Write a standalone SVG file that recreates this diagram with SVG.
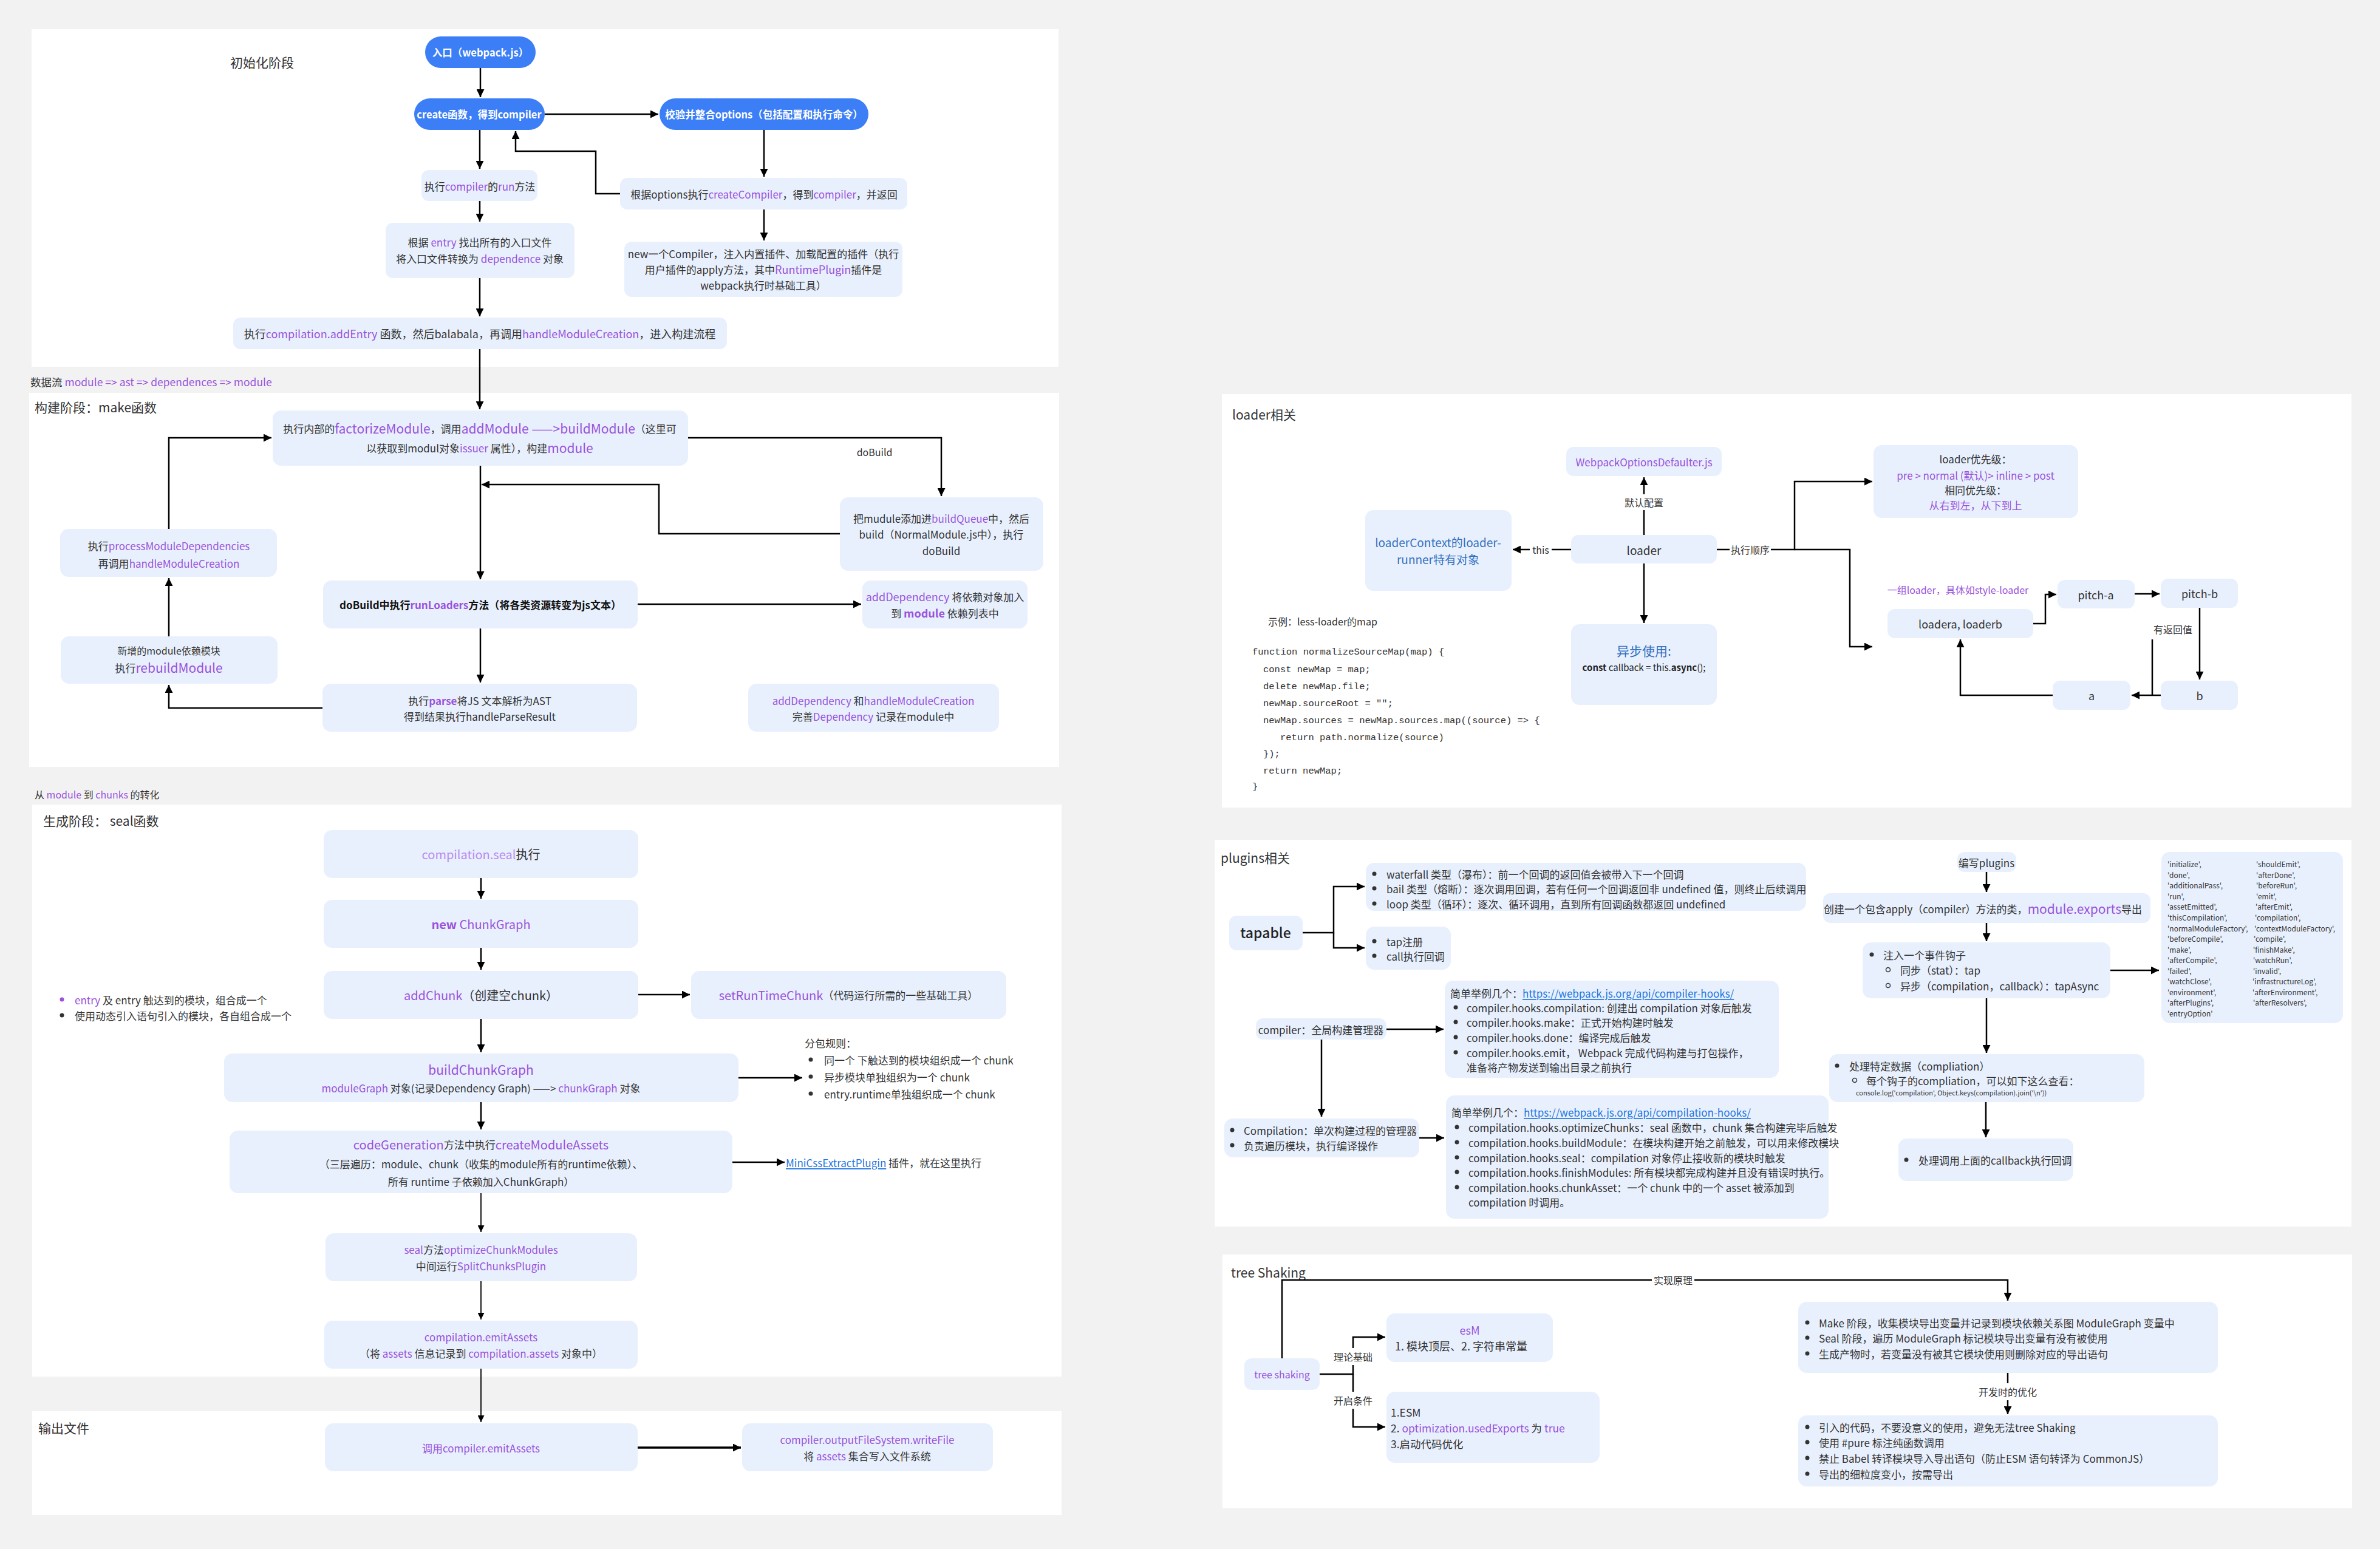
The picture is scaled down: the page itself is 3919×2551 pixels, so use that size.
<svg xmlns="http://www.w3.org/2000/svg" width="3919" height="2551" viewBox="0 0 3919 2551">
<defs>
<marker id="ah" viewBox="0 0 12 12" refX="12" refY="6" markerWidth="13" markerHeight="13" markerUnits="userSpaceOnUse" orient="auto"><path d="M0,0 L12,6 L0,12 z" fill="#000"/></marker>
<marker id="ahs" viewBox="0 0 12 12" refX="12" refY="6" markerWidth="11" markerHeight="11" markerUnits="userSpaceOnUse" orient="auto"><path d="M0,0 L12,6 L0,12 z" fill="#000"/></marker>
<style>
.t{font-family:"Noto Sans CJK SC","Noto Sans",sans-serif;fill:#333;font-size:17px;dominant-baseline:central}
.c{text-anchor:middle}
.p{fill:#9a52dc}
.lp{fill:#b98af0}
.bl{fill:#3470c0}
.lk{fill:#1f76e0;text-decoration:underline}
.b{font-weight:bold}
.w{fill:#fff}
.pill{fill:#3b7ef6}
.pt{font-size:16.5px;font-weight:bold;fill:#fff}
.box{fill:#e8f0fd}
.panel{fill:#fff}
.code{font-family:"Liberation Mono","Noto Sans CJK SC",monospace;font-size:15.5px;fill:#333;dominant-baseline:central}
.sm{font-size:12px}
.h{font-size:21px}
#connectors path{stroke:#000;stroke-width:2.5;fill:none}
#connectors path.thin{stroke-width:1.8}
#connectors path.thick{stroke-width:3.5}
.lbg{fill:#fff}
.dot{fill:#333}
</style>
</defs>
<rect width="3919" height="2551" fill="#f2f2f2"/>
<g id="panels">
<rect class="panel" x="52" y="48" width="1691" height="556"/>
<rect class="panel" x="48" y="647" width="1696" height="616"/>
<rect class="panel" x="53" y="1325" width="1695" height="942"/>
<rect class="panel" x="53" y="2324" width="1695" height="171"/>
<rect class="panel" x="2012" y="649" width="1860" height="681"/>
<rect class="panel" x="2000" y="1383" width="1872" height="637"/>
<rect class="panel" x="2013" y="2066" width="1860" height="418"/>
</g>
<g id="titles">
<text class="t h" x="379" y="102">初始化阶段</text>
<text class="t" x="50" y="628" style="font-size:17.5px">数据流 <tspan class="p">module =&gt; ast =&gt; dependences =&gt; module</tspan></text>
<text class="t h" x="57" y="670">构建阶段：make函数</text>
<text class="t" x="57" y="1308" style="font-size:16px">从 <tspan class="p">module</tspan> 到 <tspan class="p">chunks</tspan> 的转化</text>
<text class="t h" x="71" y="1351">生成阶段： seal函数</text>
<text class="t h" x="63" y="2351">输出文件</text>
<text class="t h" x="2029" y="682">loader相关</text>
<text class="t h" x="2010" y="1412">plugins相关</text>
<text class="t h" x="2027" y="2095">tree Shaking</text>
</g>

<g id="connectors">
<path d="M791 112 V160" marker-end="url(#ah)"/>
<path d="M790 214 V278" marker-end="url(#ah)"/>
<path d="M897 188 H1084" marker-end="url(#ah)"/>
<path d="M1258 214 V291" marker-end="url(#ah)"/>
<path d="M1258 345 V396" marker-end="url(#ah)"/>
<path d="M1021 319 H981 V249 H849 V216" marker-end="url(#ah)"/>
<path d="M790 331 V365" marker-end="url(#ah)"/>
<path d="M790 458 V521" marker-end="url(#ah)"/>
<path d="M790 575 V674" marker-end="url(#ah)"/>
<path d="M791 767 V954" marker-end="url(#ah)"/>
<path d="M1133 721 H1550 V817" marker-end="url(#ah)"/>
<path d="M1383 879 H1085 V798 H793" marker-end="url(#ah)"/>
<path d="M1050 995 H1418" marker-end="url(#ah)"/>
<path d="M791 1035 V1124" marker-end="url(#ah)"/>
<path d="M531 1166 H278 V1128" marker-end="url(#ah)"/>
<path d="M278 1048 V952" marker-end="url(#ah)"/>
<path d="M278 871 V721 H447" marker-end="url(#ah)"/>
<path d="M792 1446 V1480" marker-end="url(#ah)"/>
<path d="M792 1561 V1597" marker-end="url(#ah)"/>
<path d="M1051 1638 H1136" marker-end="url(#ah)"/>
<path d="M792 1678 V1733" marker-end="url(#ah)"/>
<path d="M1216 1775 H1321" marker-end="url(#ah)"/>
<path d="M792 1815 V1860" marker-end="url(#ah)"/>
<path d="M1206 1914 H1292" marker-end="url(#ah)"/>
<path class="thin" d="M792 1965 V2029" marker-end="url(#ahs)"/>
<path class="thin" d="M792 2110 V2173" marker-end="url(#ahs)"/>
<path class="thin" d="M792 2254 V2342" marker-end="url(#ahs)"/>
<path class="thick" d="M1050 2384 H1220" marker-end="url(#ah)"/>
<path d="M2707 881 V786" marker-end="url(#ah)"/>
<path d="M2587 905 H2491" marker-end="url(#ah)"/>
<path d="M2707 928 V1026" marker-end="url(#ah)"/>
<path d="M2827 905 H2955 V793 H3083" marker-end="url(#ah)"/>
<path d="M2955 905 H3046 V1065 H3083" marker-end="url(#ah)"/>
<path d="M3348 1027 H3368 V979 H3386" marker-end="url(#ah)"/>
<path d="M3515 978 H3556" marker-end="url(#ah)"/>
<path d="M3622 1001 V1119" marker-end="url(#ah)"/>
<path d="M3558 1145 H3510" marker-end="url(#ah)"/>
<path d="M3544 1053 V1145"/>
<path d="M3380 1145 H3228 V1053" marker-end="url(#ah)"/>
<path d="M2145 1536 H2196 V1460 H2247" marker-end="url(#ah)"/>
<path d="M2196 1536 V1561 H2247" marker-end="url(#ah)"/>
<path d="M2283 1695 H2377" marker-end="url(#ah)"/>
<path d="M2176 1712 V1839" marker-end="url(#ah)"/>
<path d="M2337 1874 H2378" marker-end="url(#ah)"/>
<path d="M3271 1436 V1469" marker-end="url(#ah)"/>
<path d="M3271 1520 V1550" marker-end="url(#ah)"/>
<path d="M3475 1598 H3555" marker-end="url(#ah)"/>
<path d="M3271 1644 V1734" marker-end="url(#ah)"/>
<path d="M3270 1815 V1873" marker-end="url(#ah)"/>
<path d="M2111 2237 V2108 H3306 V2142" marker-end="url(#ah)"/>
<path d="M2173 2263 H2228 V2202 H2281" marker-end="url(#ah)"/>
<path d="M2228 2263 V2350 H2281" marker-end="url(#ah)"/>
<path d="M3306 2261 V2329" marker-end="url(#ah)"/>
<rect class="lbg" x="1405" y="732" width="72" height="24"/>
<text class="t c" x="1440" y="744" style="font-size:16px">doBuild</text>
<rect class="lbg" x="2672" y="814" width="70" height="26"/>
<text class="t c" x="2707" y="827" style="font-size:16px">默认配置</text>
<rect class="lbg" x="2519" y="893" width="36" height="24"/>
<text class="t c" x="2537" y="905" style="font-size:16px">this</text>
<rect class="lbg" x="2848" y="893" width="68" height="24"/>
<text class="t c" x="2882" y="905" style="font-size:16px">执行顺序</text>
<rect class="lbg" x="3544" y="1022" width="70" height="28"/>
<text class="t c" x="3578" y="1036" style="font-size:16px">有返回值</text>
<rect class="lbg" x="2720" y="2096" width="70" height="24"/>
<text class="t c" x="2755" y="2108" style="font-size:16px">实现原理</text>
<rect class="lbg" x="2194" y="2220" width="68" height="28"/>
<text class="t c" x="2228" y="2234" style="font-size:16px">理论基础</text>
<rect class="lbg" x="2194" y="2292" width="68" height="28"/>
<text class="t c" x="2228" y="2306" style="font-size:16px">开启条件</text>
<rect class="lbg" x="3258" y="2278" width="96" height="28"/>
<text class="t c" x="3306" y="2292" style="font-size:16px">开发时的优化</text>
</g>

<g id="n-entry"><rect class="pill" x="700" y="60" width="182" height="52" rx="26"/><text class="t c pt" x="791" y="86">入口（webpack.js）</text></g>
<g id="n-create"><rect class="pill" x="682" y="162" width="215" height="52" rx="26"/><text class="t c pt" x="789" y="188">create函数，得到compiler</text></g>
<g id="n-validate"><rect class="pill" x="1086" y="162" width="344" height="52" rx="26"/><text class="t c pt" x="1258" y="188">校验并整合options（包括配置和执行命令）</text></g>
<g id="n-run"><rect class="box" x="694" y="280" width="191" height="51" rx="12"/><text class="t c" x="790" y="306">执行<tspan class="p">compiler</tspan>的<tspan class="p">run</tspan>方法</text></g>
<g id="n-entryfile"><rect class="box" x="635" y="367" width="311" height="91" rx="12"/><text class="t c" x="790" y="398">根据 <tspan class="p">entry</tspan> 找出所有的入口文件</text><text class="t c" x="790" y="425">将入口文件转换为 <tspan class="p">dependence</tspan> 对象</text></g>
<g id="n-addentry"><rect class="box" x="384" y="523" width="813" height="52" rx="12"/><text class="t c" x="790" y="549" style="font-size:18px">执行<tspan class="p">compilation.addEntry</tspan> 函数，然后balabala，再调用<tspan class="p">handleModuleCreation</tspan>，进入构建流程</text></g>
<g id="n-createcompiler"><rect class="box" x="1021" y="293" width="473" height="52" rx="12"/><text class="t c" x="1258" y="319">根据options执行<tspan class="p">createCompiler</tspan>，得到<tspan class="p">compiler</tspan>，并返回</text></g>
<g id="n-newcompiler"><rect class="box" x="1028" y="398" width="458" height="91" rx="12"/><text class="t c" x="1257" y="417">new一个Compiler，注入内置插件、加载配置的插件（执行</text><text class="t c" x="1257" y="443">用户插件的apply方法，其中<tspan class="p" style="font-size:18px">RuntimePlugin</tspan>插件是</text><text class="t c" x="1257" y="469">webpack执行时基础工具）</text></g>

<g id="n-factorize"><rect class="box" x="449" y="676" width="684" height="91" rx="14"/><text class="t c" x="790" y="705">执行内部的<tspan class="p" style="font-size:21px">factorizeModule</tspan>，调用<tspan class="p" style="font-size:21px">addModule ——&gt;buildModule</tspan>（这里可</text><text class="t c" x="790" y="737">以获取到modul对象<tspan class="p">issuer</tspan> 属性），构建<tspan class="p" style="font-size:21px">module</tspan></text></g>
<g id="n-buildqueue"><rect class="box" x="1383" y="819" width="335" height="121" rx="14"/><text class="t c" x="1550" y="853">把mudule添加进<tspan class="p">buildQueue</tspan>中，然后</text><text class="t c" x="1550" y="879">build（NormalModule.js中），执行</text><text class="t c" x="1550" y="906">doBuild</text></g>
<g id="n-dobuild"><rect class="box" x="532" y="956" width="518" height="79" rx="14"/><text class="t c b" x="791" y="995" style="fill:#111">doBuild中执行<tspan class="p">runLoaders</tspan>方法（将各类资源转变为js文本）</text></g>
<g id="n-adddep"><rect class="box" x="1420" y="956" width="272" height="79" rx="14"/><text class="t c" x="1556" y="982"><tspan class="p" style="font-size:18px">addDependency</tspan> 将依赖对象加入</text><text class="t c" x="1556" y="1009">到 <tspan class="p b" style="font-size:18px">module</tspan> 依赖列表中</text></g>
<g id="n-parse"><rect class="box" x="531" y="1126" width="518" height="79" rx="14"/><text class="t c" x="790" y="1153">执行<tspan class="p b">parse</tspan>将JS 文本解析为AST</text><text class="t c" x="790" y="1179">得到结果执行handleParseResult</text></g>
<g id="n-perfectdep"><rect class="box" x="1232" y="1126" width="413" height="79" rx="14"/><text class="t c" x="1438" y="1153"><tspan class="p">addDependency</tspan> 和<tspan class="p">handleModuleCreation</tspan></text><text class="t c" x="1438" y="1179">完善<tspan class="p">Dependency</tspan> 记录在module中</text></g>
<g id="n-rebuild"><rect class="box" x="100" y="1048" width="357" height="78" rx="14"/><text class="t c" x="278" y="1071" style="font-size:16px">新增的module依赖模块</text><text class="t c" x="278" y="1099">执行<tspan class="p" style="font-size:21px">rebuildModule</tspan></text></g>
<g id="n-processdeps"><rect class="box" x="99" y="871" width="357" height="79" rx="14"/><text class="t c" x="278" y="898">执行<tspan class="p">processModuleDependencies</tspan></text><text class="t c" x="278" y="927">再调用<tspan class="p">handleModuleCreation</tspan></text></g>

<g id="n-seal"><rect class="box" x="533" y="1367" width="518" height="79" rx="14"/><text class="t c" x="792" y="1406" style="font-size:20px"><tspan class="lp">compilation.seal</tspan>执行</text></g>
<g id="n-chunkgraph"><rect class="box" x="533" y="1482" width="518" height="79" rx="14"/><text class="t c p" x="792" y="1521" style="font-size:20px"><tspan class="b">new</tspan> ChunkGraph</text></g>
<g id="n-addchunk"><rect class="box" x="533" y="1599" width="518" height="79" rx="14"/><text class="t c" x="792" y="1638" style="font-size:20px"><tspan class="p">addChunk</tspan>（创建空chunk）</text></g>
<g id="n-runtimechunk"><rect class="box" x="1138" y="1599" width="519" height="79" rx="14"/><text class="t c" x="1397" y="1638"><tspan class="p" style="font-size:20px">setRunTimeChunk</tspan>（代码运行所需的一些基础工具）</text></g>
<g id="n-chunknotes"><circle cx="102" cy="1646" r="3.5" fill="#9a52dc"/><text class="t" x="123" y="1646"><tspan class="p">entry</tspan> 及 entry 触达到的模块，组合成一个</text><circle class="dot" cx="102" cy="1672" r="3.5"/><text class="t" x="123" y="1672">使用动态引入语句引入的模块，各自组合成一个</text></g>
<g id="n-buildchunkgraph"><rect class="box" x="369" y="1735" width="847" height="80" rx="14"/><text class="t c p" x="792" y="1761" style="font-size:21px">buildChunkGraph</text><text class="t c" x="792" y="1791"><tspan class="p">moduleGraph</tspan> 对象(记录Dependency Graph) ——&gt; <tspan class="p">chunkGraph</tspan> 对象</text></g>
<g id="n-splitrules"><text class="t" x="1325" y="1717">分包规则：</text><circle class="dot" cx="1335" cy="1745" r="3.5"/><text class="t" x="1357" y="1745">同一个 下触达到的模块组织成一个 chunk</text><circle class="dot" cx="1335" cy="1773" r="3.5"/><text class="t" x="1357" y="1773">异步模块单独组织为一个 chunk</text><circle class="dot" cx="1335" cy="1801" r="3.5"/><text class="t" x="1357" y="1801">entry.runtime单独组织成一个 chunk</text></g>
<g id="n-codegen"><rect class="box" x="378" y="1862" width="828" height="103" rx="14"/><text class="t c" x="792" y="1884"><tspan class="p" style="font-size:20px">codeGeneration</tspan>方法中执行<tspan class="p" style="font-size:20px">createModuleAssets</tspan></text><text class="t c" x="792" y="1916">（三层遍历：module、chunk（收集的module所有的runtime依赖）、</text><text class="t c" x="792" y="1945">所有 runtime 子依赖加入ChunkGraph）</text></g>
<g id="n-minicss"><text class="t" x="1294" y="1914"><tspan class="lk">MiniCssExtractPlugin</tspan> 插件，就在这里执行</text></g>
<g id="n-optimize"><rect class="box" x="536" y="2031" width="513" height="79" rx="14"/><text class="t c" x="792" y="2057"><tspan class="p">seal</tspan>方法<tspan class="p">optimizeChunkModules</tspan></text><text class="t c" x="792" y="2084">中间运行<tspan class="p">SplitChunksPlugin</tspan></text></g>
<g id="n-emitassets"><rect class="box" x="534" y="2175" width="516" height="79" rx="14"/><text class="t c p" x="792" y="2201">compilation.emitAssets</text><text class="t c" x="792" y="2228">（将 <tspan class="p">assets</tspan> 信息记录到 <tspan class="p">compilation.assets</tspan> 对象中）</text></g>

<g id="n-compileremit"><rect class="box" x="535" y="2344" width="515" height="79" rx="14"/><text class="t c p" x="792" y="2384">调用compiler.emitAssets</text></g>
<g id="n-writefile"><rect class="box" x="1222" y="2344" width="413" height="79" rx="14"/><text class="t c p" x="1428" y="2370">compiler.outputFileSystem.writeFile</text><text class="t c" x="1428" y="2397">将 <tspan class="p">assets</tspan> 集合写入文件系统</text></g>

<g id="n-defaulter"><rect class="box" x="2579" y="736" width="256" height="48" rx="12"/><text class="t c p" x="2707" y="760">WebpackOptionsDefaulter.js</text></g>
<g id="n-loader"><rect class="box" x="2587" y="881" width="240" height="47" rx="12"/><text class="t c" x="2707" y="905" style="font-size:19px">loader</text></g>
<g id="n-loadercontext"><rect class="box" x="2248" y="840" width="241" height="133" rx="14"/><text class="t c bl" x="2368" y="892" style="font-size:19px">loaderContext的loader-</text><text class="t c bl" x="2368" y="920" style="font-size:19px">runner特有对象</text></g>
<g id="n-async"><rect class="box" x="2587" y="1028" width="240" height="133" rx="14"/><text class="t c bl" x="2707" y="1071" style="font-size:21px">异步使用:</text><text class="t c" x="2707" y="1098" style="font-size:15px;fill:#222"><tspan class="b">const</tspan> callback = this.<tspan class="b">async</tspan>();</text></g>
<g id="n-example">
<text class="t" x="2088" y="1023" style="font-size:16px">示例：less-loader的map</text>
<text class="code" x="2062" y="1074">function normalizeSourceMap(map) {</text>
<text class="code" x="2080" y="1103">const newMap = map;</text>
<text class="code" x="2080" y="1131">delete newMap.file;</text>
<text class="code" x="2080" y="1159">newMap.sourceRoot = "";</text>
<text class="code" x="2080" y="1187">newMap.sources = newMap.sources.map((source) =&gt; {</text>
<text class="code" x="2108" y="1215">return path.normalize(source)</text>
<text class="code" x="2080" y="1242">});</text>
<text class="code" x="2080" y="1270">return newMap;</text>
<text class="code" x="2062" y="1296">}</text>
</g>
<g id="n-priority"><rect class="box" x="3085" y="733" width="337" height="120" rx="14"/><text class="t c" x="3253" y="755">loader优先级：</text><text class="t c p" x="3253" y="782">pre &gt; normal (默认)&gt; inline &gt; post</text><text class="t c" x="3253" y="806">相同优先级：</text><text class="t c p" x="3253" y="831">从右到左，从下到上</text></g>
<g id="n-grouplabel"><text class="t c p" x="3224" y="971" style="font-size:16px">一组loader，具体如style-loader</text></g>
<g id="n-loaderab"><rect class="box" x="3108" y="1003" width="240" height="48" rx="12"/><text class="t c" x="3228" y="1027" style="font-size:18px">loadera, loaderb</text></g>
<g id="n-pitcha"><rect class="box" x="3388" y="955" width="127" height="47" rx="12"/><text class="t c" x="3451" y="979" style="font-size:18px">pitch-a</text></g>
<g id="n-pitchb"><rect class="box" x="3558" y="953" width="127" height="48" rx="12"/><text class="t c" x="3622" y="977" style="font-size:18px">pitch-b</text></g>
<g id="n-b"><rect class="box" x="3558" y="1121" width="127" height="48" rx="12"/><text class="t c" x="3622" y="1145" style="font-size:18px">b</text></g>
<g id="n-a"><rect class="box" x="3380" y="1121" width="128" height="48" rx="12"/><text class="t c" x="3444" y="1145" style="font-size:18px">a</text></g>

<g id="n-tapable"><rect class="box" x="2024" y="1508" width="121" height="57" rx="12"/><text class="t c" x="2084" y="1535" style="font-size:23px;fill:#222;font-weight:500">tapable</text></g>
<g id="n-hooktypes"><rect class="box" x="2249" y="1421" width="725" height="79" rx="14"/>
<circle class="dot" cx="2263" cy="1439" r="3.5"/><text class="t" x="2283" y="1439">waterfall 类型（瀑布）：前一个回调的返回值会被带入下一个回调</text>
<circle class="dot" cx="2263" cy="1463" r="3.5"/><text class="t" x="2283" y="1463">bail 类型（熔断）：逐次调用回调，若有任何一个回调返回非 undefined 值，则终止后续调用</text>
<circle class="dot" cx="2263" cy="1488" r="3.5"/><text class="t" x="2283" y="1488">loop 类型（循环）：逐次、循环调用，直到所有回调函数都返回 undefined</text></g>
<g id="n-tap"><rect class="box" x="2249" y="1526" width="140" height="71" rx="14"/>
<circle class="dot" cx="2263" cy="1550" r="3.5"/><text class="t" x="2283" y="1550">tap注册</text>
<circle class="dot" cx="2263" cy="1574" r="3.5"/><text class="t" x="2283" y="1574">call执行回调</text></g>
<g id="n-compiler"><rect class="box" x="2068" y="1677" width="215" height="35" rx="12"/><text class="t c" x="2175" y="1695">compiler：全局构建管理器</text></g>
<g id="n-compilerhooks"><rect class="box" x="2379" y="1615" width="550" height="160" rx="14"/>
<text class="t" x="2388" y="1635">简单举例几个：<tspan class="lk">https://webpack.js.org/api/compiler-hooks/</tspan></text>
<circle class="dot" cx="2397" cy="1659" r="3.5"/><text class="t" x="2415" y="1659">compiler.hooks.compilation: 创建出 compilation 对象后触发</text>
<circle class="dot" cx="2397" cy="1683" r="3.5"/><text class="t" x="2415" y="1683">compiler.hooks.make：正式开始构建时触发</text>
<circle class="dot" cx="2397" cy="1708" r="3.5"/><text class="t" x="2415" y="1708">compiler.hooks.done：编译完成后触发</text>
<circle class="dot" cx="2397" cy="1733" r="3.5"/><text class="t" x="2415" y="1733">compiler.hooks.emit， Webpack 完成代码构建与打包操作，</text>
<text class="t" x="2415" y="1757">准备将产物发送到输出目录之前执行</text></g>
<g id="n-compilation"><rect class="box" x="2016" y="1842" width="321" height="64" rx="14"/>
<circle class="dot" cx="2029" cy="1861" r="3.5"/><text class="t" x="2048" y="1861">Compilation：单次构建过程的管理器</text>
<circle class="dot" cx="2029" cy="1886" r="3.5"/><text class="t" x="2048" y="1886">负责遍历模块，执行编译操作</text></g>
<g id="n-compilationhooks"><rect class="box" x="2381" y="1804" width="630" height="203" rx="14"/>
<text class="t" x="2390" y="1831">简单举例几个：<tspan class="lk">https://webpack.js.org/api/compilation-hooks/</tspan></text>
<circle class="dot" cx="2399" cy="1856" r="3.5"/><text class="t" x="2418" y="1856">compilation.hooks.optimizeChunks：seal 函数中，chunk 集合构建完毕后触发</text>
<circle class="dot" cx="2399" cy="1881" r="3.5"/><text class="t" x="2418" y="1881">compilation.hooks.buildModule：在模块构建开始之前触发，可以用来修改模块</text>
<circle class="dot" cx="2399" cy="1906" r="3.5"/><text class="t" x="2418" y="1906">compilation.hooks.seal：compilation 对象停止接收新的模块时触发</text>
<circle class="dot" cx="2399" cy="1930" r="3.5"/><text class="t" x="2418" y="1930">compilation.hooks.finishModules: 所有模块都完成构建并且没有错误时执行。</text>
<circle class="dot" cx="2399" cy="1955" r="3.5"/><text class="t" x="2418" y="1955">compilation.hooks.chunkAsset：一个 chunk 中的一个 asset 被添加到</text>
<text class="t" x="2418" y="1979">compilation 时调用。</text></g>
<g id="n-writeplugins"><rect class="box" x="3223" y="1403" width="97" height="33" rx="12"/><text class="t c" x="3271" y="1420">编写plugins</text></g>
<g id="n-createclass"><rect class="box" x="3002" y="1471" width="539" height="49" rx="12"/><text class="t c" x="3265" y="1496">创建一个包含apply（compiler）方法的类，<tspan class="p" style="font-size:21px">module.exports</tspan>导出</text></g>
<g id="n-inject"><rect class="box" x="3067" y="1552" width="408" height="92" rx="14"/>
<circle class="dot" cx="3082" cy="1572" r="3.5"/><text class="t" x="3101" y="1572">注入一个事件钩子</text>
<circle cx="3109" cy="1597" r="3.5" fill="none" stroke="#333" stroke-width="1.5"/><text class="t" x="3129" y="1597">同步（stat）：tap</text>
<circle cx="3109" cy="1623" r="3.5" fill="none" stroke="#333" stroke-width="1.5"/><text class="t" x="3129" y="1623">异步（compilation，callback）：tapAsync</text></g>
<g id="n-hooklist"><rect class="box" x="3559" y="1403" width="299" height="282" rx="14"/>
<text class="t sm" x="3569" y="1422">'initialize',</text>
<text class="t sm" x="3569" y="1440">'done',</text>
<text class="t sm" x="3569" y="1457">'additionalPass',</text>
<text class="t sm" x="3569" y="1475">'run',</text>
<text class="t sm" x="3569" y="1492">'assetEmitted',</text>
<text class="t sm" x="3569" y="1510">'thisCompilation',</text>
<text class="t sm" x="3569" y="1528">'normalModuleFactory',</text>
<text class="t sm" x="3569" y="1545">'beforeCompile',</text>
<text class="t sm" x="3569" y="1563">'make',</text>
<text class="t sm" x="3569" y="1580">'afterCompile',</text>
<text class="t sm" x="3569" y="1598">'failed',</text>
<text class="t sm" x="3569" y="1615">'watchClose',</text>
<text class="t sm" x="3569" y="1633">'environment',</text>
<text class="t sm" x="3569" y="1650">'afterPlugins',</text>
<text class="t sm" x="3569" y="1668">'entryOption'</text>
<text class="t sm" x="3715" y="1422">'shouldEmit',</text>
<text class="t sm" x="3715" y="1440">'afterDone',</text>
<text class="t sm" x="3715" y="1457">'beforeRun',</text>
<text class="t sm" x="3715" y="1475">'emit',</text>
<text class="t sm" x="3714" y="1492">'afterEmit',</text>
<text class="t sm" x="3713" y="1510">'compilation',</text>
<text class="t sm" x="3712" y="1528">'contextModuleFactory',</text>
<text class="t sm" x="3711" y="1545">'compile',</text>
<text class="t sm" x="3710" y="1563">'finishMake',</text>
<text class="t sm" x="3710" y="1580">'watchRun',</text>
<text class="t sm" x="3710" y="1598">'invalid',</text>
<text class="t sm" x="3709" y="1615">'infrastructureLog',</text>
<text class="t sm" x="3709" y="1633">'afterEnvironment',</text>
<text class="t sm" x="3710" y="1650">'afterResolvers',</text></g>
<g id="n-handledata"><rect class="box" x="3012" y="1736" width="519" height="79" rx="14"/>
<circle class="dot" cx="3025" cy="1755" r="3.5"/><text class="t" x="3045" y="1755">处理特定数据（compliation）</text>
<circle cx="3054" cy="1779" r="3.5" fill="none" stroke="#333" stroke-width="1.5"/><text class="t" x="3073" y="1779">每个钩子的compliation，可以如下这么查看：</text>
<text class="t" x="3056" y="1799" style="font-size:11px">console.log('compilation', Object.keys(compilation).join('\n'))</text></g>
<g id="n-callback"><rect class="box" x="3126" y="1875" width="288" height="70" rx="14"/>
<circle class="dot" cx="3139" cy="1910" r="3.5"/><text class="t" x="3159" y="1910">处理调用上面的callback执行回调</text></g>

<g id="n-treeshaking"><rect class="box" x="2049" y="2237" width="124" height="52" rx="12"/><text class="t c p" x="2111" y="2263" style="font-size:16px">tree shaking</text></g>
<g id="n-esm"><rect class="box" x="2283" y="2163" width="274" height="80" rx="14"/><text class="t c p" x="2420" y="2190" style="font-size:18px">esM</text><text class="t" x="2297" y="2216" style="font-size:18px">1. 模块顶层、2. 字符串常量</text></g>
<g id="n-conditions"><rect class="box" x="2283" y="2292" width="351" height="117" rx="14"/><text class="t" x="2290" y="2325" style="font-size:17.5px">1.ESM</text><text class="t" x="2290" y="2351" style="font-size:17.5px">2. <tspan class="p">optimization.usedExports</tspan> 为 <tspan class="p">true</tspan></text><text class="t" x="2290" y="2377" style="font-size:17.5px">3.启动代码优化</text></g>
<g id="n-principle"><rect class="box" x="2961" y="2144" width="691" height="117" rx="14"/>
<circle class="dot" cx="2976" cy="2178" r="3.5"/><text class="t" x="2995" y="2178">Make 阶段，收集模块导出变量并记录到模块依赖关系图 ModuleGraph 变量中</text>
<circle class="dot" cx="2976" cy="2203" r="3.5"/><text class="t" x="2995" y="2203">Seal 阶段，遍历 ModuleGraph 标记模块导出变量有没有被使用</text>
<circle class="dot" cx="2976" cy="2229" r="3.5"/><text class="t" x="2995" y="2229">生成产物时，若变量没有被其它模块使用则删除对应的导出语句</text></g>
<g id="n-devopt"><rect class="box" x="2961" y="2331" width="691" height="117" rx="14"/>
<circle class="dot" cx="2976" cy="2350" r="3.5"/><text class="t" x="2995" y="2350">引入的代码，不要没意义的使用，避免无法tree Shaking</text>
<circle class="dot" cx="2976" cy="2375" r="3.5"/><text class="t" x="2995" y="2375">使用 #pure 标注纯函数调用</text>
<circle class="dot" cx="2976" cy="2401" r="3.5"/><text class="t" x="2995" y="2401">禁止 Babel 转译模块导入导出语句（防止ESM 语句转译为 CommonJS）</text>
<circle class="dot" cx="2976" cy="2427" r="3.5"/><text class="t" x="2995" y="2427">导出的细粒度变小，按需导出</text></g>
</svg>
